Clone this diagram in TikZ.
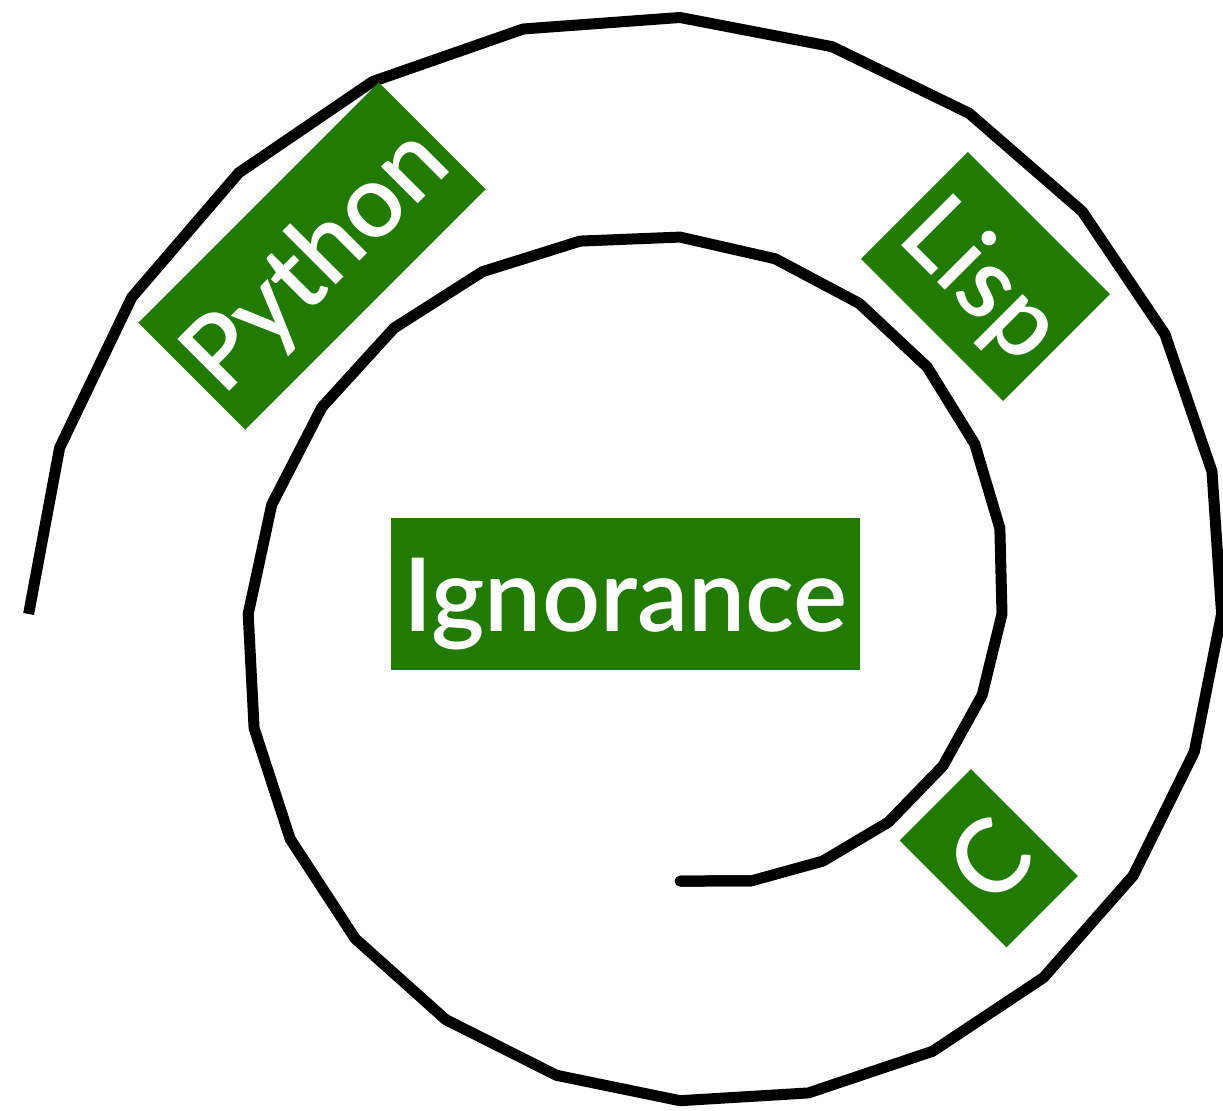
\documentclass[tikz,border=0pt]{standalone}
\usepackage{fontspec}
\setmainfont{Lato}[UprightFont={* Semibold}]
\definecolor{leaf}{RGB}{33,123,0}
\begin{document}
\begin{tikzpicture}[tag/.style={fill=leaf,text=white,inner sep=0pt,minimum height=1.51cm,text height=0.76cm,text depth=0pt,font=\fontsize{29}{29}\selectfont}]
\useasboundingbox (0,0) rectangle (12.23,11.11);
\def\spiralr#1{(322+0.61*#1)/100}
\begin{scope}[shift={(6.8,4.97)},line width=0.11cm,line join=round]
\draw plot[domain=-90:540,samples=43] (\x:{\spiralr{\x}});
\draw[line cap=round] (-90:{\spiralr{-90}}) -- (-75:{\spiralr{-75}});
\end{scope}
\node[tag,minimum width=4.69cm,minimum height=1.52cm] (ignorance) at (6.255,5.17) {Ignorance};
\foreach \n/\t/\x/\y/\r/\w in {python/Python/3.12/8.55/45/3.40,lisp/Lisp/9.855/8.345/-45/2.01,c/C/9.8875/2.5275/45/1.01}
  \node[tag,rotate=\r,minimum width=\w cm] (\n) at (\x,\y) {\t};
\end{tikzpicture}
\end{document}
